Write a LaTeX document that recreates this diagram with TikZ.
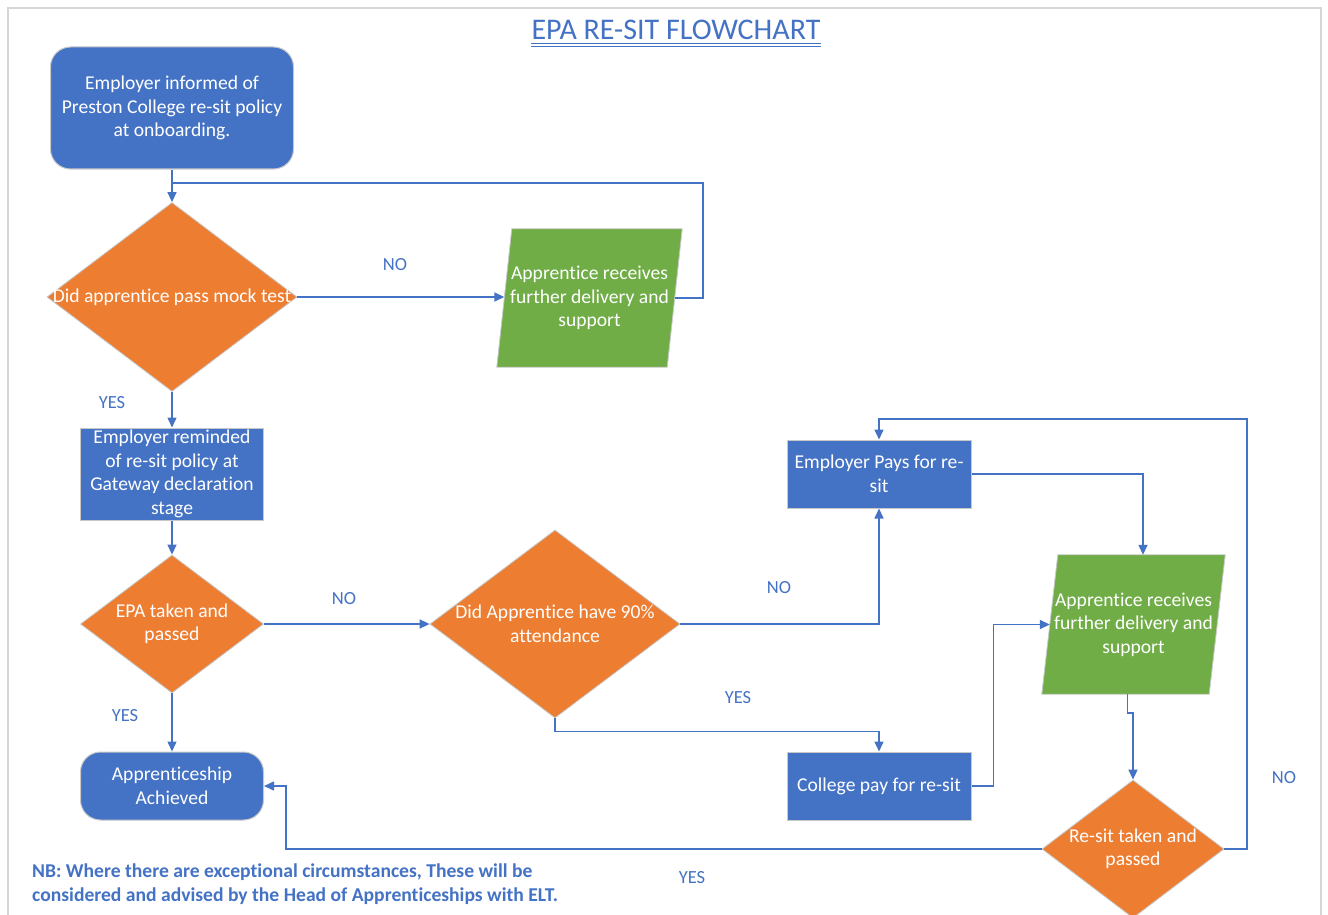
\documentclass[tikz,border=0pt]{standalone}
\usepackage{fontspec}
\setmainfont{Carlito}[Ligatures={NoCommon}]
\usetikzlibrary{shapes.geometric,arrows.meta,backgrounds}
\definecolor{cblue}{HTML}{4472C4}
\definecolor{corange}{HTML}{ED7D31}
\definecolor{cgreen}{HTML}{70AD47}
\definecolor{shapeedge}{HTML}{C8C8C8}
\definecolor{framegray}{HTML}{D6D6D6}
\begin{document}
\begin{tikzpicture}[x=1pt,y=-1pt,
  every node/.style={font=\fontsize{19.6}{23.5}\selectfont},
  box/.style={rectangle, fill=cblue, draw=shapeedge, line width=1pt, text=white, align=center, inner sep=0pt},
  rbox/.style={box, rounded corners=20pt},
  dia/.style={diamond, fill=corange, draw=shapeedge, line width=0.8pt, inner sep=0pt},
  dtext/.style={text=white, align=center, inner sep=0pt},
  para/.style={rectangle, inner sep=0pt, text=white, align=center},
  parafill/.style={fill=cgreen, draw=shapeedge, line width=0.8pt},
  lbl/.style={text=cblue, inner sep=0pt, font=\fontsize{18.5}{22}\selectfont},
  conn/.style={draw=cblue, line width=1.5pt, -{Triangle[length=10pt,width=9pt]}},
  plain/.style={draw=cblue, line width=1.5pt},
]
\useasboundingbox (0,0) rectangle (1328,915);
\draw[framegray, line width=2pt] (8,930) -- (8,8) -- (1321,8) -- (1321,930);

% title
\node[text=cblue, inner sep=0pt, font=\fontsize{30}{34}\selectfont] (title) at (676,30) {EPA RE-SIT FLOWCHART};
\draw[cblue, line width=0.8pt] ([yshift=-4pt]title.base west) -- ([yshift=-4pt]title.base east);
\draw[cblue, line width=0.8pt] ([yshift=-7pt]title.base west) -- ([yshift=-7pt]title.base east);

% nodes
\node[rbox, minimum width=243, minimum height=122] (a) at (172,108) {Employer informed of\\Preston College re-sit policy\\at onboarding.};
\node[dia, minimum width=250, minimum height=189] (d1) at (172,297) {};
\node[dtext] (d1t) at (d1) {Did apprentice pass mock test};
\node[para, minimum width=170, minimum height=138] (p1) at (589.5,298) {Apprentice receives\\further delivery and\\support};
\node[box, minimum width=183, minimum height=92] (b) at (172,474) {Employer reminded\\of re-sit policy at\\Gateway declaration\\stage};
\node[dia, minimum width=183, minimum height=138] (d2) at (172,624) {};
\node[dtext] (d2t) at (d2) {EPA taken and\\passed};
\node[dia, minimum width=250, minimum height=188] (d3) at (555,624) {};
\node[dtext] (d3t) at (d3) {Did Apprentice have 90\%\\attendance};
\node[box, minimum width=184, minimum height=68] (e) at (879,474) {Employer Pays for re-\\sit};
\node[box, minimum width=184, minimum height=68] (f) at (879,786) {College pay for re-sit};
\node[rbox, minimum width=183, minimum height=68] (g) at (172,786) {Apprenticeship\\Achieved};
\node[para, minimum width=167, minimum height=139] (p2) at (1133.5,624.5) {Apprentice receives\\further delivery and\\support};
\node[dia, minimum width=182, minimum height=138] (d4) at (1133,849) {};
\node[dtext] (d4t) at (d4) {Re-sit taken and\\passed};

\begin{scope}[on background layer]
\fill[white] (0,0) rectangle (1328,915);
\path[parafill] ([xshift=-7.5pt]p1.south west) -- ([xshift=-7.5pt]p1.south east) -- ([xshift=7.5pt]p1.north east) -- ([xshift=7.5pt]p1.north west) -- cycle;
\path[parafill] ([xshift=-8pt]p2.south west) -- ([xshift=-8pt]p2.south east) -- ([xshift=8pt]p2.north east) -- ([xshift=8pt]p2.north west) -- cycle;
\end{scope}

% connectors
\coordinate (j1) at (172,183);
\coordinate (r1) at (703,183);
\coordinate (r2) at (1247,419);
\coordinate (l1) at (286,786);
\draw[conn] (a.south) -- (d1.north);
\draw[conn] (d1.east) -- (d1.east -| p1.west);
\draw[plain] (p1.east) -| (r1) -- (j1);
\draw[conn] (d1.south) -- (b.north);
\draw[conn] (b.south) -- (d2.north);
\draw[conn] (d2.east) -- (d3.west);
\draw[conn] (d2.south) -- (g.north);
\draw[conn] (d3.east) -| (e.south);
\draw[conn] (d3.south) -- ++(0,13) -| (f.north);
\draw[conn] (e.east) -| ([xshift=9.5pt]p2.north);
\draw[conn] (f.east) -- ++(22,0) |- (p2.west);
\draw[conn] ([xshift=-6pt]p2.south) -- ++(0,19) -| (d4.north);
\draw[conn] (d4.east) -| (r2) -| (e.north);
\draw[conn] (d4.west) -| (l1) -- (g.east);

% labels
\node[lbl] (n1) at (395,265) {NO};
\node[lbl] (y1) at (112,403) {YES};
\node[lbl] (n2) at (344,599) {NO};
\node[lbl] (y2) at (125,716) {YES};
\node[lbl] (n3) at (779,588) {NO};
\node[lbl] (y3) at (738,698) {YES};
\node[lbl] (n4) at (1284,778) {NO};
\node[lbl] (y4) at (692,878) {YES};

\node[text=cblue, inner sep=0pt, anchor=west, align=left, font=\bfseries\fontsize{19.6}{24}\selectfont] (nb) at (32,884) {NB: Where there are exceptional circumstances, These will be\\considered and advised by the Head of Apprenticeships with ELT.};
\end{tikzpicture}
\end{document}
